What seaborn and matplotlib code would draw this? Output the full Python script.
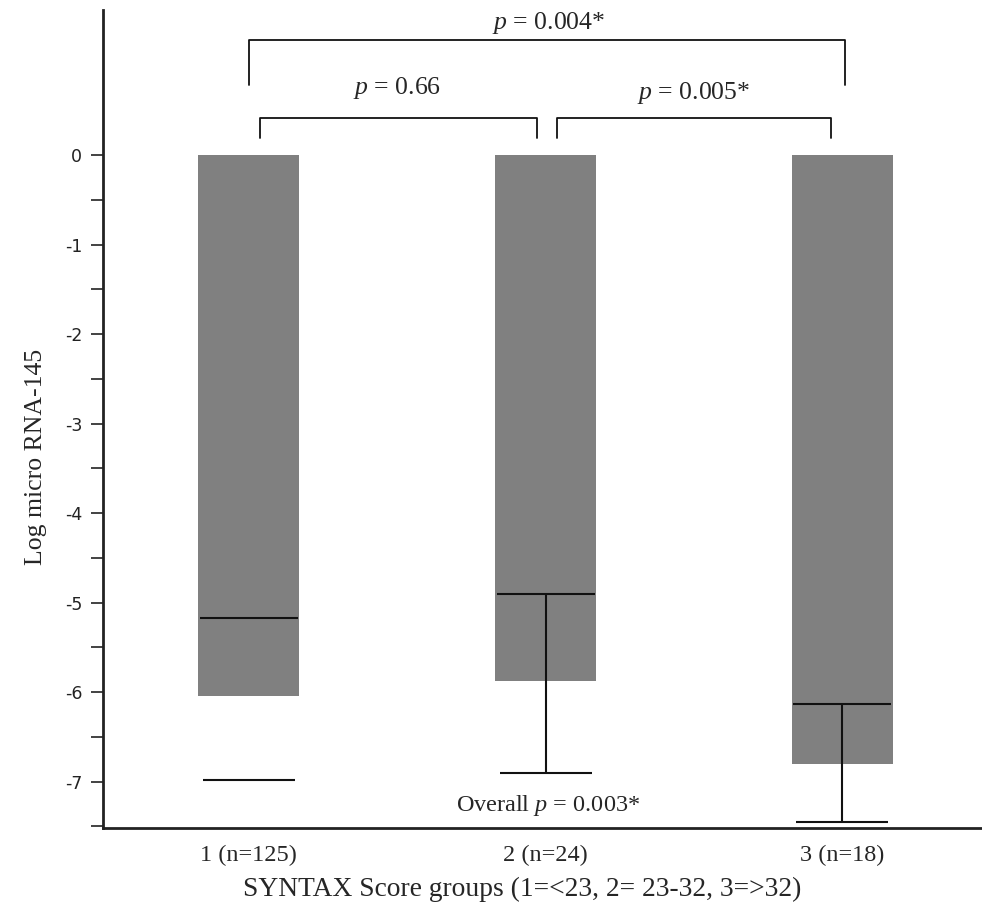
import matplotlib
matplotlib.use("Agg")
import matplotlib.pyplot as plt
import seaborn as sns
import numpy as np
import pandas as pd
from matplotlib.ticker import FixedLocator

groups = ["1 (n=125)", "2 (n=24)", "3 (n=18)"]
bar_low = [-6.04, -5.88, -6.80]
median = [-5.17, -4.90, -6.13]
whisker_low = [-6.98, -6.90, -7.45]
pair_labels = ["p = 0.66", "p = 0.005*", "p = 0.004*"]
overall_label = "Overall p = 0.003*"

sns.set_theme(style="white")
plt.rcParams["font.family"] = ["Liberation Serif", "DejaVu Serif"]
plt.rcParams["mathtext.fontset"] = "custom"
plt.rcParams["mathtext.rm"] = "Liberation Serif"
plt.rcParams["mathtext.it"] = "Liberation Serif:italic"

fig = plt.figure(figsize=(9.82, 9.09), dpi=100)
ax = fig.add_axes([0.105, 0.089, 0.895, 0.9])

df = pd.DataFrame({"group": groups, "low": bar_low})
sns.barplot(data=df, x="group", y="low", color="#808080", saturation=1,
            width=0.34, ax=ax, linewidth=0)

lc = "#111111"
for i, g in enumerate(groups):
    ax.hlines(median[i], i - 0.165, i + 0.165, color=lc, lw=1.5, zorder=3)
    ax.hlines(whisker_low[i], i - 0.155, i + 0.155, color=lc, lw=1.5, zorder=3)
    if i > 0:
        ax.vlines(i, whisker_low[i], median[i], color=lc, lw=1.5, zorder=3)

ax.set_ylim(-7.52, 1.62)
ax.set_xlim(-0.49, 2.47)

def bracket(x0, x1, ytop, ybot, label, ytext, xtext):
    ax.plot([x0, x0, x1, x1], [ybot, ytop, ytop, ybot], color=lc, lw=1.3,
            clip_on=False)
    lab = label.replace("p = ", "")
    ax.text(xtext, ytext, r"$p$ = " + lab, ha="center", va="center",
            fontsize=18.5, clip_on=False)

bracket(0.04, 0.97, 0.41, 0.19, pair_labels[0], 0.75, 0.50)
bracket(1.04, 1.96, 0.41, 0.19, pair_labels[1], 0.69, 1.50)
bracket(0.0, 2.01, 1.28, 0.78, pair_labels[2], 1.48, 1.01)

ov = overall_label.replace("Overall p = ", "")
ax.text(1.01, -7.27, r"Overall $p$ = " + ov, ha="center", va="center",
        fontsize=17.5)

ax.set_yticks(np.arange(0, -8, -1))
ax.set_yticklabels([str(v) for v in range(0, -8, -1)], family="DejaVu Sans",
                   fontsize=12.5)
ax.yaxis.set_minor_locator(FixedLocator(np.arange(-0.5, -8, -1)))
ax.tick_params(axis="y", which="both", direction="out", length=9, width=1.2,
               left=True, colors="#222222", pad=6)
ax.tick_params(axis="x", length=0, labelsize=17.5, pad=12)

for s in ["top", "right"]:
    ax.spines[s].set_visible(False)
for s in ["left", "bottom"]:
    ax.spines[s].set_color("#222222")
    ax.spines[s].set_linewidth(2.0)

ax.set_ylabel("Log micro RNA-145", fontsize=18.5)
ax.set_xlabel("SYNTAX Score groups (1=<23, 2= 23-32, 3=>32)", fontsize=19.8)
ax.yaxis.set_label_coords(-0.064, 0.454)
ax.xaxis.set_label_coords(0.477, -0.059)

fig.savefig("out.png", dpi=100)
